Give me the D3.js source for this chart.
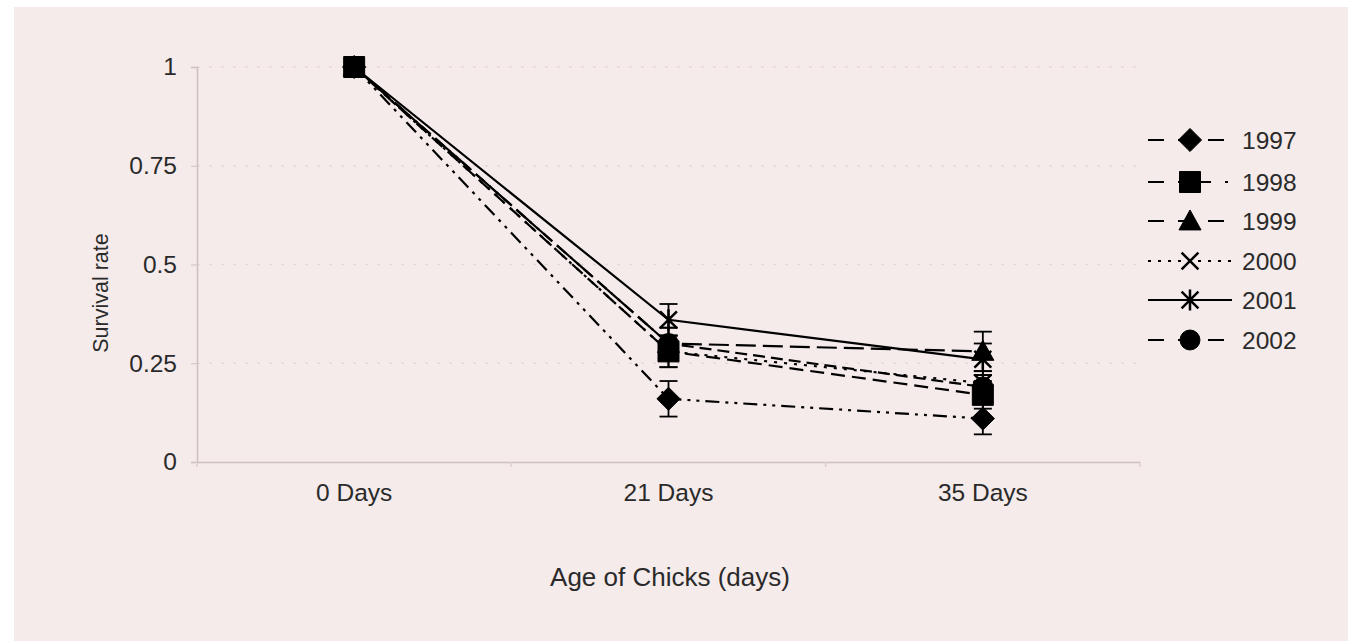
<!DOCTYPE html>
<html><head><meta charset="utf-8">
<script src="https://cdn.jsdelivr.net/npm/d3@7/dist/d3.min.js"></script>
<style>body{margin:0;background:#fff}svg{display:block}text{font-family:"Liberation Sans",Arial,sans-serif;fill:#2a2a2a}</style>
</head><body><svg id="c" width="1348" height="641"></svg>
<script>
const categories = ["0 Days", "21 Days", "35 Days"];
const yTicks = [0, 0.25, 0.5, 0.75, 1];
const yTickLabels = ["0", "0.25", "0.5", "0.75", "1"];
const seriesNames = ["1997", "1998", "1999", "2000", "2001", "2002"];
const s1997 = [1, 0.16, 0.11];
const s1998 = [1, 0.28, 0.17];
const s1999 = [1, 0.30, 0.28];
const s2000 = [1, 0.28, 0.20];
const s2001 = [1, 0.36, 0.26];
const s2002 = [1, 0.30, 0.19];
const e1997 = [0, 0.045, 0.04];
const e1998 = [0, 0.04, 0.035];
const e1999 = [0, 0.04, 0.05];
const e2000 = [0, 0.04, 0.03];
const e2001 = [0, 0.04, 0.04];
const e2002 = [0, 0.04, 0.03];

const values = [s1997, s1998, s1999, s2000, s2001, s2002];
const errors = [e1997, e1998, e1999, e2000, e2001, e2002];
const dashes = ["14,6,3,6,3,6", "14,7", "20,7", "3,7", null, "12,6"];
const legendDashes = ["16,14", "16,14,3,14", "16,14", "3,7", null, "16,14"];
const markers = ["diamond", "square", "triangle", "x", "star", "circle"];

const svg = d3.select("#c");
svg.append("rect").attr("x", 14).attr("y", 7).attr("width", 1334).attr("height", 634).attr("fill", "#f5ebeb");

const x = d3.scaleBand().domain(categories).range([197, 1140]).padding(0);
const y = d3.scaleLinear().domain([0, 1]).range([462, 67]);
const cx = c => x(c) + x.bandwidth() / 2;

// gridlines
svg.append("g").selectAll("line").data(yTicks.slice(1)).join("line")
  .attr("x1", 197).attr("x2", 1140).attr("y1", d => y(d)).attr("y2", d => y(d))
  .attr("stroke", "#e6d9d9").attr("stroke-width", 1.5).attr("stroke-dasharray", "3,9");

// y axis
const yAxis = d3.axisLeft(y).tickValues(yTicks).tickFormat((d, i) => yTickLabels[i]).tickSize(6).tickPadding(14);
const gy = svg.append("g").attr("transform", "translate(197,0)").call(yAxis);
gy.select(".domain").attr("stroke", "#cdc0c0").attr("stroke-width", 1.5);
gy.selectAll(".tick line").attr("stroke", "#cdc0c0");
gy.selectAll("text").attr("font-size", 24.5).style("fill", "#2a2a2a").attr("font-family", "Liberation Sans, Arial, sans-serif");

// x axis
const xAxis = d3.axisBottom(x).tickSize(0).tickPadding(22);
const gx = svg.append("g").attr("transform", "translate(0,462)").call(xAxis);
gx.select(".domain").attr("stroke", "#cdc0c0").attr("stroke-width", 1.5);
gx.selectAll("text").attr("font-size", 24.5).style("fill", "#2a2a2a").attr("font-family", "Liberation Sans, Arial, sans-serif");
const bounds = [x(categories[0])].concat(categories.map(c => x(c) + x.bandwidth()));
gx.append("g").selectAll("line").data(bounds).join("line")
  .attr("x1", d => d).attr("x2", d => d).attr("y1", 0).attr("y2", 5).attr("stroke", "#ddd0d0").attr("stroke-width", 1.5);

// titles
svg.append("text").attr("x", 670).attr("y", 586).attr("text-anchor", "middle").attr("font-size", 26).text("Age of Chicks (days)");
svg.append("text").attr("transform", "translate(108,293) rotate(-90)").attr("text-anchor", "middle").attr("font-size", 21.5).text("Survival rate");

function markerPath(type, s) {
  const h = s / 2;
  switch (type) {
    case "diamond": return `M0,${-h*1.1}L${h*1.1},0L0,${h*1.1}L${-h*1.1},0Z`;
    case "square": return `M${-h},${-h}H${h}V${h}H${-h}Z`;
    case "triangle": return `M0,${-h*1.05}L${h*1.05},${h*0.85}L${-h*1.05},${h*0.85}Z`;
    case "circle": return d3.arc()({innerRadius:0, outerRadius:h*0.95, startAngle:0, endAngle:2*Math.PI});
    case "x": return `M${-h*0.8},${-h*0.8}L${h*0.8},${h*0.8}M${h*0.8},${-h*0.8}L${-h*0.8},${h*0.8}`;
    case "star": return `M${-h*0.8},${-h*0.8}L${h*0.8},${h*0.8}M${h*0.8},${-h*0.8}L${-h*0.8},${h*0.8}M0,${-h}L0,${h}`;
  }
}
function drawMarker(g, type, px, py) {
  const stroke = (type === "x" || type === "star");
  g.append("path").attr("d", markerPath(type, 21)).attr("transform", `translate(${px},${py})`)
    .attr("fill", stroke ? "none" : "#000").attr("stroke", "#000").attr("stroke-width", stroke ? 2.5 : 1);
}

const line = d3.line().x((d, i) => cx(categories[i])).y(d => y(d));
const plot = svg.append("g");
values.forEach((vals, si) => {
  plot.append("path").attr("d", line(vals)).attr("fill", "none").attr("stroke", "#000")
    .attr("stroke-width", 2.2).attr("stroke-dasharray", dashes[si]);
});
values.forEach((vals, si) => {
  vals.forEach((v, i) => {
    const e = errors[si][i];
    if (e > 0) {
      const px = cx(categories[i]);
      plot.append("line").attr("x1", px).attr("x2", px).attr("y1", y(v - e)).attr("y2", y(v + e)).attr("stroke", "#000").attr("stroke-width", 1.8);
      [v - e, v + e].forEach(t => plot.append("line").attr("x1", px - 9).attr("x2", px + 9).attr("y1", y(t)).attr("y2", y(t)).attr("stroke", "#000").attr("stroke-width", 1.8));
    }
  });
});
values.forEach((vals, si) => {
  vals.forEach((v, i) => drawMarker(plot, markers[si], cx(categories[i]), y(v)));
});

// legend
const legY = [140, 182, 221, 261, 300, 340];
const leg = svg.append("g");
seriesNames.forEach((n, i) => {
  const ly = legY[i];
  leg.append("line").attr("x1", 1148).attr("x2", 1232).attr("y1", ly).attr("y2", ly).attr("stroke", "#000")
    .attr("stroke-width", 2).attr("stroke-dasharray", legendDashes[i]);
  drawMarker(leg, markers[i], 1190, ly);
  leg.append("text").attr("x", 1242).attr("y", ly + 9).attr("font-size", 24.5).text(n);
});
</script></body></html>
